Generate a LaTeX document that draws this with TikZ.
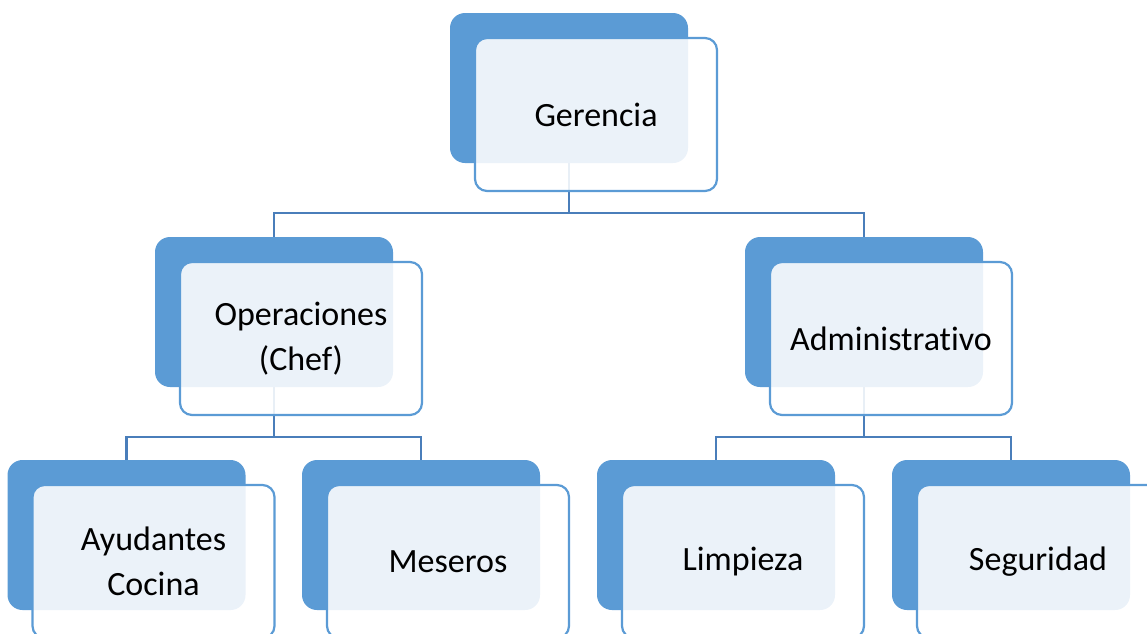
\documentclass[tikz,border=0pt]{standalone}
\usepackage{fontspec}
\setmainfont[RawFeature={-liga}]{Carlito}
\usetikzlibrary{backgrounds}
\definecolor{boxblue}{HTML}{5B9BD5}
\definecolor{linkblue}{HTML}{4A7EBA}
\tikzset{
  backbox/.style={fill=boxblue, draw=none, rounded corners=15pt, minimum width=238pt, minimum height=150pt, inner sep=0pt},
  frontbox/.style={fill=white, fill opacity=0.88, text opacity=1, draw=boxblue, line width=2.2pt, rounded corners=12pt, minimum width=242pt, minimum height=153pt, inner sep=0pt, align=center, font=\fontsize{34}{45}\selectfont},
  conn/.style={draw=linkblue, line width=2.2pt}
}
\newcommand{\orgunit}[4]{%
  \node[backbox] (#1-b) at (#2,#3) {};
  \node[frontbox] (#1-f) at (#2+27,#3+26.5) {#4};
}
\begin{document}
\begin{tikzpicture}[x=1pt,y=-1pt]
\useasboundingbox (0,0) rectangle (1147,633);
\clip (0,0) rectangle (1147,633);
\orgunit{ger}{569}{88}{Gerencia}
\orgunit{ope}{274}{312}{Operaciones\\(Chef)}
\orgunit{adm}{864}{312}{Administrativo}
\orgunit{ayu}{126.5}{535}{Ayudantes\\Cocina}
\orgunit{mes}{421}{535}{Meseros}
\orgunit{lim}{716}{535}{Limpieza}
\orgunit{seg}{1011}{535}{Seguridad}
\begin{scope}[on background layer]
\draw[conn] (ger-b.south) -- ++(0,49.5) coordinate (bus1);
\draw[conn] (ope-b.north) |- (bus1) -| (adm-b.north);
\draw[conn] (ope-b.south) -- ++(0,50) coordinate (bus2);
\draw[conn] (ayu-b.north) |- (bus2) -| (mes-b.north);
\draw[conn] (adm-b.south) -- ++(0,50) coordinate (bus3);
\draw[conn] (lim-b.north) |- (bus3) -| (seg-b.north);
\end{scope}
\end{tikzpicture}
\end{document}
